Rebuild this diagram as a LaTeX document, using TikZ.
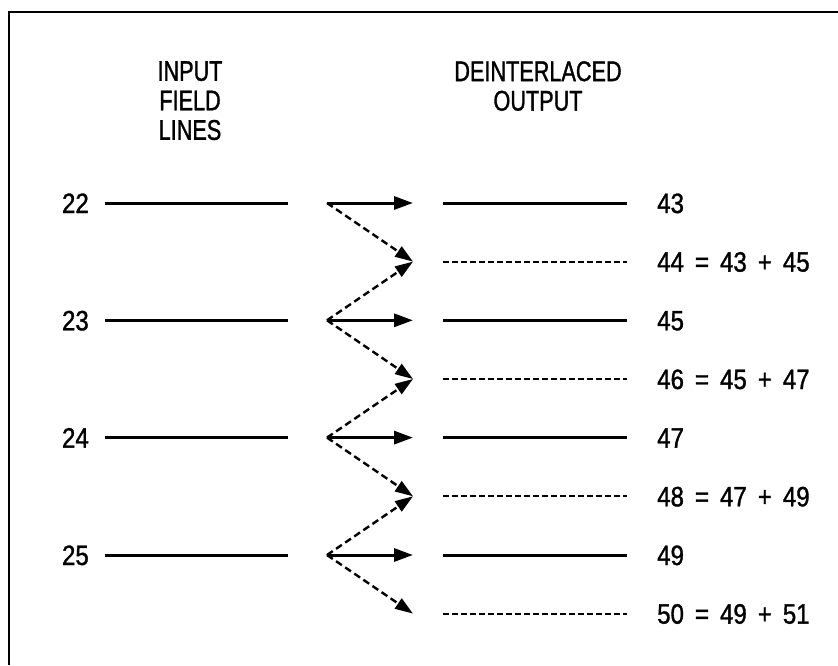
\documentclass[tikz,border=0pt]{standalone}
\usepackage{fontspec}
\setmainfont{Liberation Sans}[FakeStretch=0.86,FakeBold=1.2]
\newfontfamily\ttlfont{Liberation Sans}[FakeStretch=0.76,FakeBold=1.2]
\usetikzlibrary{arrows.meta}
\newcommand{\gp}{\hspace{11pt}}
\begin{document}
\begin{tikzpicture}[x=1pt,y=-1pt,
  lbl/.style={font=\fontsize{28}{29.5}\selectfont, inner sep=0pt, text height=20pt, text depth=0pt},
  ttl/.style={font=\ttlfont\fontsize{28.5}{29.5}\selectfont, inner sep=0pt, align=center, anchor=north},
  frame/.style={line width=2pt},
  solidline/.style={line width=3pt},
  dashline/.style={line width=2pt, dash pattern=on 6pt off 3pt},
  arr/.style={line width=3pt, -{Triangle[length=19pt,width=13pt]}},
  darr/.style={line width=2.4pt, dash pattern=on 7pt off 4pt, -{Triangle[length=18pt,width=12pt]}}]
\useasboundingbox (0,0) rectangle (838,665);
\coordinate (fbl) at (9,665);
\coordinate (ftl) at (9,12);
\coordinate (ftr) at (838,12);
\draw[frame] (fbl) -- (ftl) -- (ftr);

% titles
\node[ttl] (tin) at (190,61) {INPUT\\FIELD\\LINES};
\node[ttl] (tout) at (538,61) {DEINTERLACED\\OUTPUT};

% input rows
\foreach \n/\yy in {22/203, 23/320.3, 24/437.6, 25/555} {
  \node[lbl, anchor=east] (l\n) at (89,\yy) {\n};
  \coordinate (a\n) at (105,\yy);
  \coordinate (b\n) at (288,\yy);
  \coordinate (s\n) at (327,\yy);
  \draw[solidline] (a\n) -- (b\n);
}

% output rows
\foreach \n/\yy in {43/203, 44/261.6, 45/320.3, 46/379, 47/437.6, 48/496.3, 49/555, 50/613.6} {
  \coordinate (t\n) at (413,\yy);
  \coordinate (c\n) at (443,\yy);
  \coordinate (d\n) at (627,\yy);
}
\foreach \n in {43,45,47,49} { \draw[solidline] (c\n) -- (d\n); }
\foreach \n in {44,46,48,50} { \draw[dashline] (c\n) -- (d\n); }

\node[lbl, anchor=west] (r43) at (657,203) {43};
\node[lbl, anchor=west] (r44) at (657,261.6) {44\gp=\gp43\gp+\gp45};
\node[lbl, anchor=west] (r45) at (657,320.3) {45};
\node[lbl, anchor=west] (r46) at (657,379) {46\gp=\gp45\gp+\gp47};
\node[lbl, anchor=west] (r47) at (657,437.6) {47};
\node[lbl, anchor=west] (r48) at (657,496.3) {48\gp=\gp47\gp+\gp49};
\node[lbl, anchor=west] (r49) at (657,555) {49};
\node[lbl, anchor=west] (r50) at (657,613.6) {50\gp=\gp49\gp+\gp51};

% arrows
\draw[arr] (s22) -- (t43);
\draw[arr] (s23) -- (t45);
\draw[arr] (s24) -- (t47);
\draw[arr] (s25) -- (t49);
\draw[darr] (s22) -- (t44);
\draw[darr] (s23) -- (t44);
\draw[darr] (s23) -- (t46);
\draw[darr] (s24) -- (t46);
\draw[darr] (s24) -- (t48);
\draw[darr] (s25) -- (t48);
\draw[darr] (s25) -- (t50);
\end{tikzpicture}
\end{document}
